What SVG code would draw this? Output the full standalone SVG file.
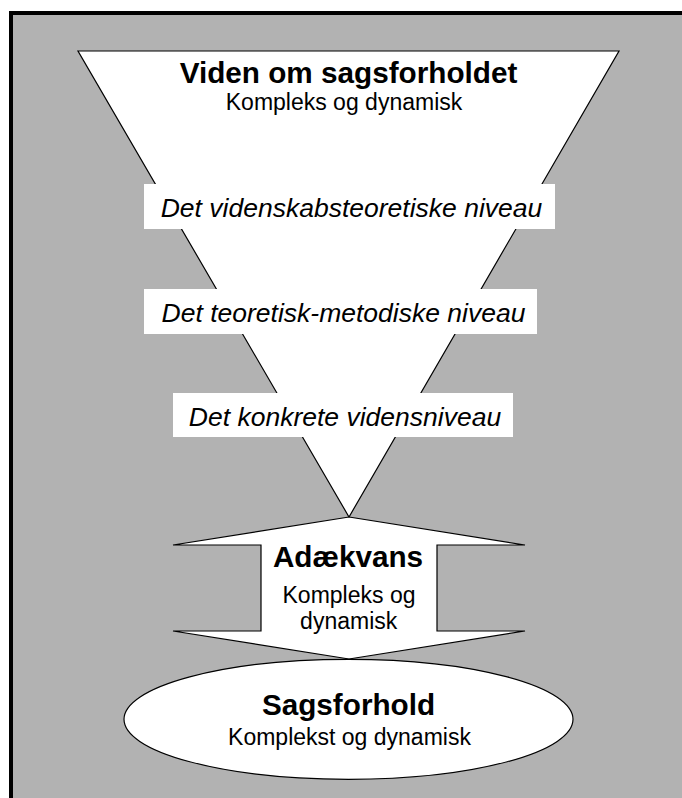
<svg xmlns="http://www.w3.org/2000/svg" width="682" height="798" viewBox="0 0 682 798">
  <style>
    .shape { fill: #ffffff; stroke: #000000; stroke-width: 1.2; stroke-linejoin: miter; }
    .label { fill: #ffffff; stroke: none; }
    text { font-family: "Liberation Sans", Arial, sans-serif; fill: #000000; text-anchor: middle; }
    .title { font-weight: bold; font-size: 29.7px; }
    .sub { font-size: 23px; }
    .lvl { font-style: italic; font-size: 26.5px; }
  </style>
  <g id="frame">
    <rect x="11" y="13" width="690" height="800" fill="#b2b2b2" stroke="#000000" stroke-width="4"/>
  </g>
  <g id="viden">
    <polygon class="shape" points="78,51 619,51 349,517"/>
    <text class="title" x="348.5" y="83">Viden om sagsforholdet</text>
    <text class="sub" x="344" y="110">Kompleks og dynamisk</text>
  </g>
  <g id="niveau1">
    <rect class="label" x="144" y="184" width="411" height="45"/>
    <text class="lvl" x="351.5" y="217">Det videnskabsteoretiske niveau</text>
  </g>
  <g id="niveau2">
    <rect class="label" x="144" y="289" width="393" height="45"/>
    <text class="lvl" x="343.5" y="322">Det teoretisk-metodiske niveau</text>
  </g>
  <g id="niveau3">
    <rect class="label" x="173" y="393" width="340" height="44"/>
    <text class="lvl" x="345" y="426">Det konkrete vidensniveau</text>
  </g>
  <g id="adaekvans">
    <polygon class="shape" points="349,517 525,545 437,545 437,631 525,631 349,659 173,631 261,631 261,545 173,545"/>
    <text class="title" x="348" y="567">Adækvans</text>
    <text class="sub" x="349" y="603">Kompleks og</text>
    <text class="sub" x="348.7" y="629">dynamisk</text>
  </g>
  <g id="sagsforhold">
    <ellipse class="shape" cx="348.5" cy="719.3" rx="224.5" ry="60"/>
    <text class="title" x="348.5" y="715">Sagsforhold</text>
    <text class="sub" x="349.5" y="745">Komplekst og dynamisk</text>
  </g>
  <g id="connectors"/>
</svg>
